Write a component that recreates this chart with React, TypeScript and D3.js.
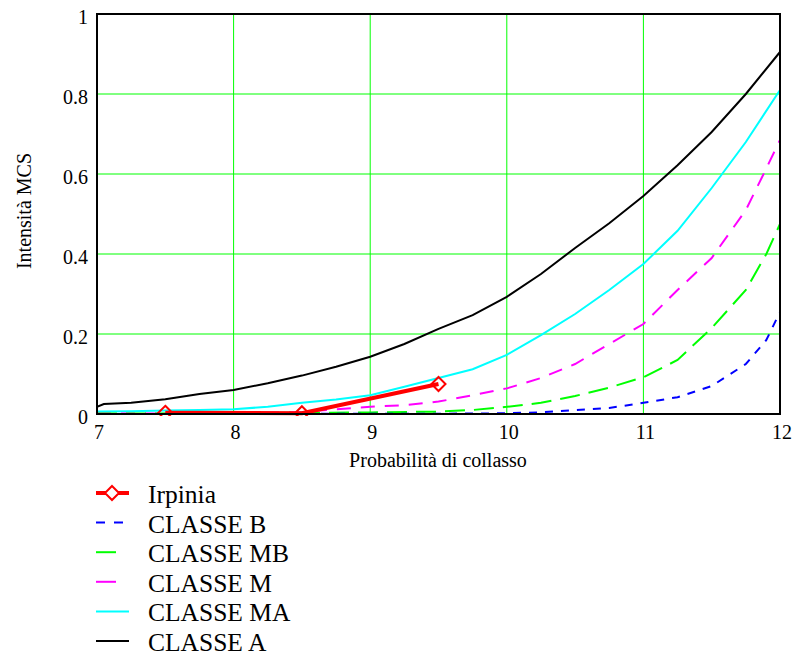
import * as d3 from "d3";

// Probabilità di collasso (x) vs Intensità MCS (y)
const xA = [7, 7.05, 7.25, 7.5, 7.75, 8, 8.25, 8.5, 8.75, 9, 9.25, 9.5, 9.75, 10, 10.25, 10.5, 10.75, 11, 11.25, 11.5, 11.75, 12];
const yA = [0.018, 0.025, 0.028, 0.037, 0.05, 0.06, 0.077, 0.096, 0.118, 0.143, 0.175, 0.213, 0.247, 0.293, 0.35, 0.415, 0.477, 0.545, 0.622, 0.705, 0.8, 0.905];

const xMA = [7, 7.25, 7.5, 7.75, 8, 8.25, 8.5, 8.75, 9, 9.25, 9.5, 9.75, 10, 10.25, 10.5, 10.75, 11, 11.25, 11.5, 11.75, 12];
const yMA = [0.006, 0.007, 0.009, 0.01, 0.012, 0.018, 0.028, 0.036, 0.047, 0.068, 0.09, 0.112, 0.148, 0.197, 0.25, 0.31, 0.375, 0.458, 0.565, 0.68, 0.81];

const xM = [7, 8, 8.5, 8.75, 9, 9.25, 9.5, 9.75, 10, 10.25, 10.5, 10.75, 11, 11.25, 11.5, 11.75, 11.88, 12];
const yM = [0.001, 0.002, 0.005, 0.012, 0.018, 0.022, 0.031, 0.047, 0.064, 0.09, 0.125, 0.175, 0.225, 0.31, 0.39, 0.51, 0.6, 0.685];

const xMB = [7, 8, 9, 9.5, 9.75, 10, 10.25, 10.5, 10.75, 11, 11.25, 11.5, 11.75, 11.9, 12];
const yMB = [0.001, 0.002, 0.004, 0.006, 0.01, 0.018, 0.028, 0.045, 0.066, 0.092, 0.135, 0.215, 0.31, 0.4, 0.475];

const xB = [7, 9.8, 10, 10.25, 10.5, 10.75, 11, 11.25, 11.5, 11.75, 11.9, 12];
const yB = [0, 0.001, 0.002, 0.004, 0.01, 0.015, 0.028, 0.042, 0.07, 0.125, 0.185, 0.255];

const xIrpinia = [7.5, 8.5, 9.5];
const yIrpinia = [0.003, 0.002, 0.075];

const xTicks = [7, 8, 9, 10, 11, 12];
const yTicks = [0, 0.2, 0.4, 0.6, 0.8, 1];

interface Series {
  name: string;
  xs: number[];
  ys: number[];
  color: string;
  width: number;
  dash?: string;
  legendDash?: string;
  legendLen?: number;
}

const curves: Series[] = [
  { name: "CLASSE A", xs: xA, ys: yA, color: "#000000", width: 2 },
  { name: "CLASSE MA", xs: xMA, ys: yMA, color: "#00ffff", width: 2 },
  { name: "CLASSE M", xs: xM, ys: yM, color: "#ff00ff", width: 2, dash: "14,10", legendLen: 20 },
  { name: "CLASSE MB", xs: xMB, ys: yMB, color: "#00ff00", width: 2, dash: "20,9", legendLen: 20 },
  { name: "CLASSE B", xs: xB, ys: yB, color: "#0000ff", width: 2, dash: "8,8", legendDash: "9,9" },
];

const FONT = '"Liberation Serif", "Times New Roman", Times, serif';
const W = 792;
const H = 658;
const left = 97, right = 780, top = 14, bottom = 414;

export default function App() {
  const x = d3.scaleLinear().domain([7, 12]).range([left, right]);
  const y = d3.scaleLinear().domain([0, 1]).range([bottom, top]);

  const line = d3
    .line<[number, number]>()
    .x((d) => x(d[0]))
    .y((d) => y(d[1]));

  const pts = (xs: number[], ys: number[]) => xs.map((v, i) => [v, ys[i]] as [number, number]);

  const diamond = (cx: number, cy: number, r: number) =>
    `M${cx},${cy - r}L${cx + r},${cy}L${cx},${cy + r}L${cx - r},${cy}Z`;

  const legendRows = [
    { name: "Irpinia", irpinia: true as const },
    ...["CLASSE B", "CLASSE MB", "CLASSE M", "CLASSE MA", "CLASSE A"].map((n) => ({
      name: n,
      s: curves.find((c) => c.name === n)!,
    })),
  ];

  const txt = { fontFamily: FONT };

  return (
    <svg
      width={W}
      height={H}
      style={{ position: "absolute", left: 0, top: 0, background: "#fff", fontFamily: FONT }}
    >
      <defs>
        <clipPath id="plot">
          <rect x={left} y={top - 2} width={right - left + 2} height={bottom - top + 4} />
        </clipPath>
      </defs>

      {/* grid */}
      <g stroke="#00ff00" strokeWidth={1}>
        {xTicks.slice(1, -1).map((t) => (
          <line key={"gx" + t} x1={x(t)} x2={x(t)} y1={top} y2={bottom} />
        ))}
        {yTicks.slice(1, -1).map((t) => (
          <line key={"gy" + t} x1={left} x2={right} y1={y(t)} y2={y(t)} />
        ))}
      </g>

      {/* curves */}
      <g clipPath="url(#plot)" fill="none">
        {curves.map((c) => (
          <path
            key={c.name}
            d={line(pts(c.xs, c.ys)) ?? ""}
            stroke={c.color}
            strokeWidth={c.width}
            strokeDasharray={c.dash}
          />
        ))}
        <path d={line(pts(xIrpinia, yIrpinia)) ?? ""} stroke="#ff0000" strokeWidth={4} />
        {xIrpinia.map((v, i) => (
          <path
            key={"m" + v}
            d={diamond(x(v), y(yIrpinia[i]), 7)}
            fill="none"
            stroke="#ff0000"
            strokeWidth={2}
          />
        ))}
      </g>

      {/* frame */}
      <rect x={left} y={top} width={right - left} height={bottom - top} fill="none" stroke="#000" strokeWidth={2} />

      {/* tick labels */}
      <g fill="#000">
        {yTicks.map((t) => (
          <text key={"ty" + t} x={88} y={y(t) + 10} textAnchor="end" style={{ ...txt, fontSize: 20 }}>
            {t}
          </text>
        ))}
        {xTicks.map((t) => (
          <text key={"tx" + t} x={x(t) + 2} y={439} textAnchor="middle" style={{ ...txt, fontSize: 20 }}>
            {t}
          </text>
        ))}
      </g>

      {/* axis titles */}
      <text x={438} y={467} textAnchor="middle" style={{ ...txt, fontSize: 20 }}>
        Probabilità di collasso
      </text>
      <text transform="translate(31,211) rotate(-90)" textAnchor="middle" style={{ ...txt, fontSize: 20 }}>
        Intensità MCS
      </text>

      {/* legend */}
      <g>
        {legendRows.map((r, i) => {
          const ly = 493 + i * 29.6;
          return (
            <g key={r.name}>
              {"irpinia" in r ? (
                <>
                  <line x1={96} x2={129} y1={ly} y2={ly} stroke="#ff0000" strokeWidth={4} />
                  <path d={diamond(112, ly, 7)} fill="#fff" stroke="#ff0000" strokeWidth={2} />
                </>
              ) : (
                <line
                  x1={96}
                  x2={96 + (r.s.legendLen ?? 33)}
                  y1={ly}
                  y2={ly}
                  stroke={r.s.color}
                  strokeWidth={2}
                  strokeDasharray={r.s.legendDash}
                />
              )}
              <text x={148} y={ly + 10} style={{ ...txt, fontSize: 25.5 }}>
                {r.name}
              </text>
            </g>
          );
        })}
      </g>
    </svg>
  );
}
